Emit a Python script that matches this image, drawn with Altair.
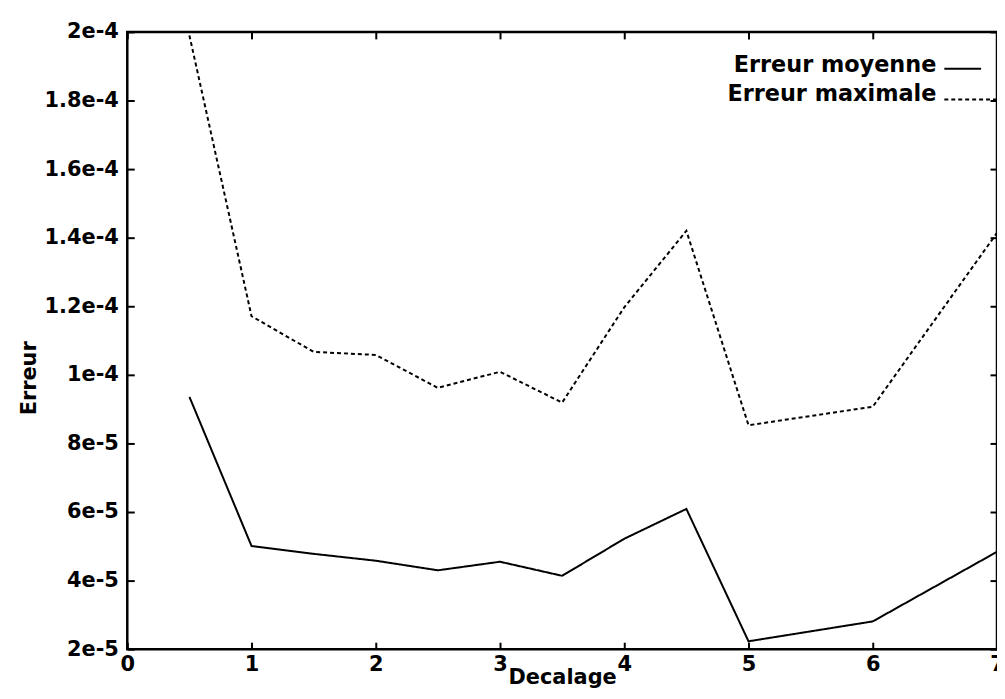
import json
import altair as alt
import pandas as pd

# ---- data ----
X = [0.5, 1, 1.5, 2, 2.5, 3, 3.5, 4, 4.5, 5, 6, 7]
MEAN = [9.36e-5, 5.01e-5, 4.78e-5, 4.58e-5, 4.30e-5, 4.55e-5, 4.14e-5,
        5.22e-5, 6.09e-5, 2.23e-5, 2.81e-5, 4.84e-5]
MAXI = [1.99e-4, 1.171e-4, 1.067e-4, 1.058e-4, 9.62e-5, 1.009e-4, 9.19e-5,
        1.197e-4, 1.42e-4, 8.53e-5, 9.07e-5, 1.414e-4]
SERIES = ["Erreur moyenne", "Erreur maximale"]
DASHES = [[1, 0], [4, 3]]
X_TICKS = [0, 1, 2, 3, 4, 5, 6, 7]
Y_TICKS = [2e-5, 4e-5, 6e-5, 8e-5, 1e-4, 1.2e-4, 1.4e-4, 1.6e-4, 1.8e-4, 2e-4]
Y_LABELS = ["2e-5", "4e-5", "6e-5", "8e-5", "1e-4", "1.2e-4", "1.4e-4",
            "1.6e-4", "1.8e-4", "2e-4"]

rows = []
for x, v in zip(X, MEAN):
    rows.append({"Decalage": x, "Erreur": v, "Serie": SERIES[0]})
for x, v in zip(X, MAXI):
    rows.append({"Decalage": x, "Erreur": v, "Serie": SERIES[1]})
df = pd.DataFrame(rows)

FONT = "DejaVu Sans"
FS = 21
W, H = 875, 621

xscale = alt.Scale(domain=[0, 7], nice=False, zero=False)
yscale = alt.Scale(domain=[2e-5, 2e-4], nice=False, zero=False)
ylabel_expr = json.dumps(Y_LABELS) + "[round(datum.value / 2e-5) - 1]"

common_axis = dict(offset=-7, tickSize=7, tickWidth=2, tickColor="black",
                   domain=False, grid=False, labelFont=FONT, labelFontSize=FS,
                   labelFontWeight="bold", labelColor="black",
                   labelOverlap=False, labelFlush=False,
                   titleFont=FONT, titleFontSize=FS, titleFontWeight="bold",
                   titleColor="black")

base = alt.Chart(df)

lines = base.mark_line(color="black", strokeWidth=2, clip=True).encode(
    x=alt.X("Decalage:Q", scale=xscale,
            axis=alt.Axis(orient="bottom", values=X_TICKS, format="d",
                          labelPadding=4, title="Decalage",
                          titleBaseline="alphabetic", titleY=42,
                          **common_axis)),
    y=alt.Y("Erreur:Q", scale=yscale,
            axis=alt.Axis(orient="left", values=Y_TICKS, labelExpr=ylabel_expr,
                          labelPadding=9, title="Erreur", titlePadding=5,
                          titleY=348, **common_axis)),
    strokeDash=alt.StrokeDash("Serie:N",
                              scale=alt.Scale(domain=SERIES, range=DASHES),
                              legend=None),
)

ticks = base.mark_point(opacity=0).encode(
    x=alt.X("Decalage:Q", scale=xscale,
            axis=alt.Axis(orient="top", values=X_TICKS, labels=False,
                          title=None, **common_axis)),
    y=alt.Y("Erreur:Q", scale=yscale,
            axis=alt.Axis(orient="right", values=Y_TICKS, labels=False,
                          title=None, **common_axis)),
)

# ---- legend (label to the left of its line sample), inside the frame ----
legend_layers = []
for i, (name, dash) in enumerate(zip(SERIES, DASHES)):
    one = alt.Chart(pd.DataFrame({"Serie": [name]}))
    legend_layers.append(
        one.mark_text(align="right", baseline="middle", font=FONT,
                      fontSize=22.5, fontWeight="bold", color="black").encode(
            x=alt.value(814), y=alt.value(33 + 29 * i), text="Serie:N")
    )
    legend_layers.append(
        one.mark_rule(color="black", strokeWidth=2, strokeDash=dash,
                      clip=True).encode(
            x=alt.value(822), x2=alt.value(859 if i == 0 else W),
            y=alt.value(37 + 31 * i))
    )

chart = (
    alt.layer(lines, ticks, *legend_layers)
    .resolve_axis(x="independent", y="independent")
    .properties(width=W, height=H,
                padding={"left": 120, "top": 22, "right": 0, "bottom": 40},
                autosize=alt.AutoSizeParams(type="none"),
                background="white")
    .configure_view(stroke="black", strokeWidth=2.5)
)

chart.save("out.html", embed_options={"renderer": "svg", "actions": False})
